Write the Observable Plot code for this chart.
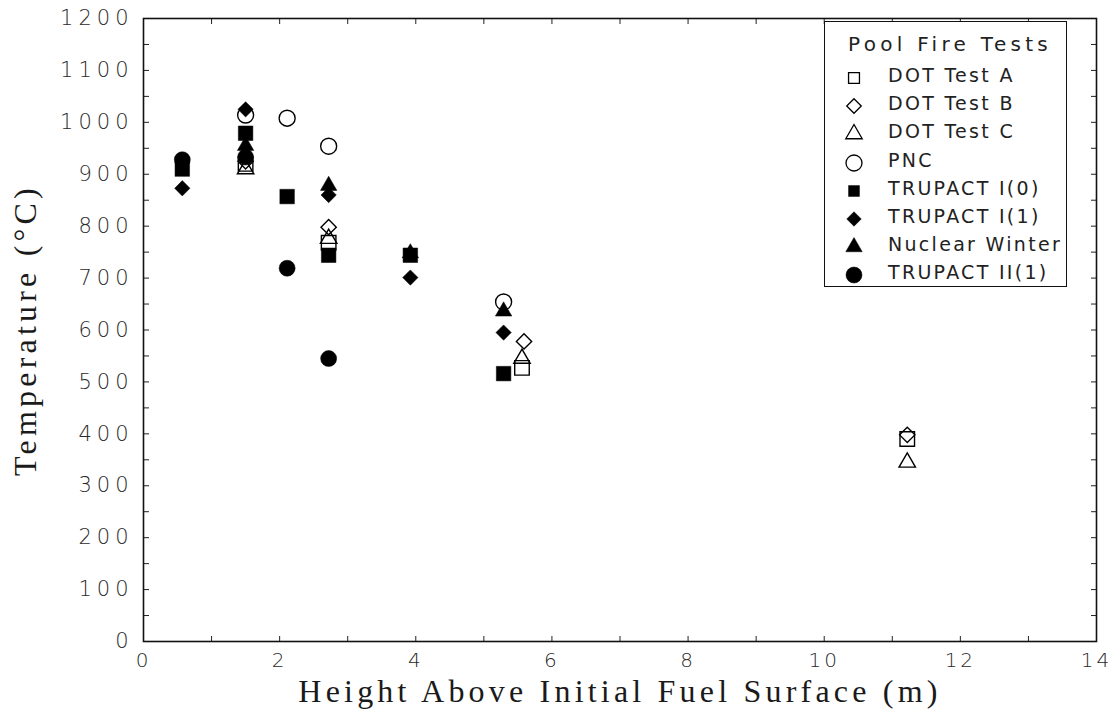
<!DOCTYPE html>
<html><head><meta charset="utf-8">
<script src="https://cdn.jsdelivr.net/npm/d3@7"></script>
<script src="https://cdn.jsdelivr.net/npm/@observablehq/plot@0.6"></script>
<style>
body{margin:0;background:#fff;}
#wrap{position:relative;width:1115px;height:713px;}
#legend{position:absolute;left:824px;top:21px;width:243px;height:266px;border:1.5px solid #111;background:#fff;box-sizing:border-box;font-family:"DejaVu Sans",sans-serif;color:#222;}
#legend .ttl{position:absolute;left:23px;top:10px;font-size:20px;letter-spacing:4.3px;white-space:nowrap;}
#legend .row{position:absolute;left:0;height:28px;width:100%;}
#legend .row svg{position:absolute;left:17px;top:4px;}
#legend .row span{position:absolute;left:63px;top:1px;font-size:19px;letter-spacing:2.3px;white-space:nowrap;}
svg [aria-label="y-axis tick label"] text{letter-spacing:5px;}
svg [aria-label="x-axis tick label"] text{letter-spacing:3px;}
svg [aria-label="x-axis label"] text,svg [aria-label="y-axis label"] text{letter-spacing:4.2px;}
</style></head>
<body><div id="wrap"></div>
<script>
// ---- data ----
const seriesNames = ["DOT Test A","DOT Test B","DOT Test C","PNC","TRUPACT I(0)","TRUPACT I(1)","Nuclear Winter","TRUPACT II(1)"];
const seriesSymbols = ["square","diamond2","triangle","circle","square","diamond2","triangle","circle"];
const seriesFilled = [false,false,false,false,true,true,true,true];

const dotA_height = [1.5, 2.72, 5.56, 11.22];
const dotA_temp   = [920, 768, 527, 390];
const dotB_height = [1.5, 2.72, 5.59, 11.22];
const dotB_temp   = [925, 798, 578, 398];
const dotC_height = [1.5, 2.72, 5.56, 11.22];
const dotC_temp   = [910, 776, 545, 345];
const pnc_height  = [1.5, 2.11, 2.72, 5.29];
const pnc_temp    = [1014, 1008, 954, 654];
const t10_height  = [0.57, 1.5, 2.11, 2.72, 3.92, 5.29];
const t10_temp    = [910, 979, 857, 744, 744, 516];
const t11_height  = [0.57, 1.5, 2.72, 3.92, 5.29];
const t11_temp    = [873, 1025, 860, 701, 595];
const nw_height   = [1.5, 2.72, 3.92, 5.29];
const nw_temp     = [955, 878, 748, 636];
const t21_height  = [0.57, 1.5, 2.11, 2.72];
const t21_temp    = [928, 933, 719, 545];

const seriesHeights = [dotA_height, dotB_height, dotC_height, pnc_height, t10_height, t11_height, nw_height, t21_height];
const seriesTemps   = [dotA_temp, dotB_temp, dotC_temp, pnc_temp, t10_temp, t11_temp, nw_temp, t21_temp];

const xTicks = [0,2,4,6,8,10,12,14];
const xMinorTicks = d3.range(0, 14.001, 1);
const yTicks = d3.range(0, 1201, 100);
const yMinorTicks = d3.range(0, 1201, 50);

const legendTitle = "Pool Fire Tests";
const xTitle = "Height Above Initial Fuel Surface (m)";
const yTitle = "Temperature (°C)";

// symbol radius (Plot r) chosen per symbol kind so the glyphs look alike
const symbolR = {square: 8.2, diamond2: 6.9, triangle: 6.1, circle: 8};

const ink = "#000";
const sansFont = "DejaVu Sans, sans-serif";
const serifFont = "Liberation Serif, serif";

function rows(i) {
  return seriesHeights[i].map((h, j) => ({series: seriesNames[i], height: h, temp: seriesTemps[i][j]}));
}

const dotMarks = seriesNames.map((name, i) => Plot.dot(rows(i), {
  x: "height", y: "temp",
  symbol: () => seriesSymbols[i],
  r: symbolR[seriesSymbols[i]],
  fill: seriesFilled[i] ? ink : "none",
  stroke: ink,
  strokeWidth: seriesFilled[i] ? 0.5 : 1.4
}));

const plot = Plot.plot({
  width: 1115, height: 713,
  marginTop: 18, marginRight: 19, marginBottom: 72, marginLeft: 143,
  style: {background: "#fff", color: "#222", fontFamily: sansFont},
  x: {domain: [0, 14]},
  y: {domain: [0, 1200]},
  symbol: {type: "identity"},
  marks: [
    Plot.axisY(yMinorTicks, {anchor: "left", tickSize: -6, fill: "none", stroke: "#222"}),
    Plot.axisY(yMinorTicks, {anchor: "right", tickSize: -6, fill: "none", stroke: "#222"}),
    Plot.axisX(xMinorTicks, {anchor: "bottom", tickSize: -5, fill: "none", stroke: "#222"}),
    Plot.axisX(xMinorTicks, {anchor: "top", tickSize: -5, fill: "none", stroke: "#222"}),
    Plot.axisY(yTicks, {anchor: "left", tickSize: 0, tickPadding: 10, tickFormat: d3.format("d"), fontSize: 21, fontWeight: 300, fill: "#2a2a2a", label: null}),
    Plot.axisX(xTicks, {anchor: "bottom", tickSize: 0, tickPadding: 11, tickFormat: d3.format("d"), fontSize: 20, fontWeight: 300, fill: "#2a2a2a", label: null}),
    Plot.axisX([], {anchor: "bottom", tickSize: 0, label: xTitle, labelAnchor: "center", labelArrow: "none", labelOffset: 60, fontSize: 32, fontFamily: serifFont, fill: "#1a1a1a"}),
    Plot.axisY([], {anchor: "left", tickSize: 0, label: yTitle, labelAnchor: "center", labelArrow: "none", labelOffset: 130, fontSize: 32, fontFamily: serifFont, fill: "#1a1a1a"}),
    Plot.frame({stroke: "#111", strokeWidth: 1.6}),
    ...dotMarks
  ]
});
const wrap = document.getElementById("wrap");
wrap.appendChild(plot);

// legend drawn as an HTML overlay inside the plot frame
const legend = document.createElement("div");
legend.id = "legend";
const ttl = document.createElement("div");
ttl.className = "ttl"; ttl.textContent = legendTitle;
legend.appendChild(ttl);
const symSize = {square: 0.75, diamond2: 0.95, triangle: 1, circle: 1};
seriesNames.forEach((name, i) => {
  const row = document.createElement("div");
  row.className = "row";
  row.style.top = (41 + i * 28.2) + "px";
  const s = d3.create("svg").attr("width", 24).attr("height", 22);
  const kind = seriesSymbols[i];
  const r = symbolR[kind] * symSize[kind];
  const sym = {square: d3.symbolSquare, diamond2: d3.symbolDiamond2, triangle: d3.symbolTriangle, circle: d3.symbolCircle}[kind];
  s.append("path")
    .attr("transform", "translate(12,11)")
    .attr("d", d3.symbol(sym, Math.PI * r * r)())
    .attr("fill", seriesFilled[i] ? ink : "none")
    .attr("stroke", ink)
    .attr("stroke-width", seriesFilled[i] ? 0.5 : 1.3);
  row.appendChild(s.node());
  const t = document.createElement("span");
  t.textContent = name;
  row.appendChild(t);
  legend.appendChild(row);
});
wrap.appendChild(legend);
</script>
</body></html>
